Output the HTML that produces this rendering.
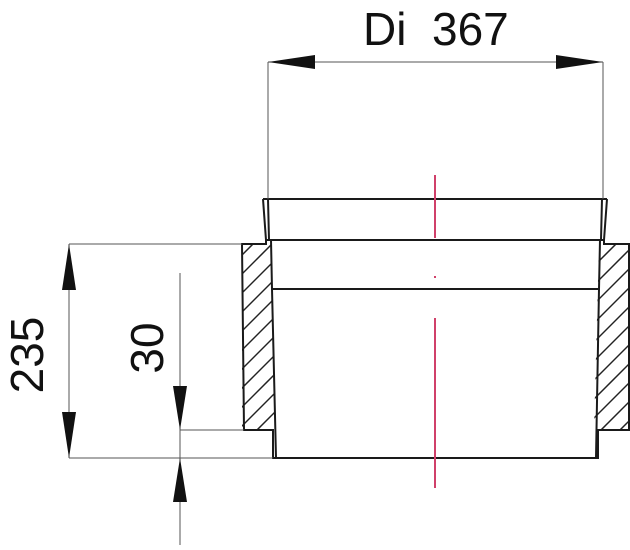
<!DOCTYPE html>
<html><head><style>body{margin:0;background:#fff}svg{display:block}</style></head><body>
<svg width="630" height="550" viewBox="0 0 630 550" xmlns="http://www.w3.org/2000/svg" font-family="Liberation Sans, sans-serif">
<defs>
<clipPath id="cl"><path d="M242,244 L271,244 L276,430 L242,430 Z"/></clipPath>
<clipPath id="cr"><path d="M629,244 L599,244 L594,430 L629,430 Z"/></clipPath>
</defs>
<g clip-path="url(#cl)" stroke="#222" stroke-width="1.5">
<line x1="235" y1="262" x2="285" y2="212"/><line x1="235" y1="281" x2="285" y2="231"/><line x1="235" y1="300" x2="285" y2="250"/><line x1="235" y1="319" x2="285" y2="269"/><line x1="235" y1="338" x2="285" y2="288"/><line x1="235" y1="357" x2="285" y2="307"/><line x1="235" y1="376" x2="285" y2="326"/><line x1="235" y1="395" x2="285" y2="345"/><line x1="235" y1="414" x2="285" y2="364"/><line x1="235" y1="433" x2="285" y2="383"/><line x1="235" y1="452" x2="285" y2="402"/><line x1="235" y1="471" x2="285" y2="421"/><line x1="235" y1="490" x2="285" y2="440"/>
</g>
<g clip-path="url(#cr)" stroke="#222" stroke-width="1.5">
<line x1="590" y1="270" x2="640" y2="220"/><line x1="590" y1="289" x2="640" y2="239"/><line x1="590" y1="308" x2="640" y2="258"/><line x1="590" y1="327" x2="640" y2="277"/><line x1="590" y1="346" x2="640" y2="296"/><line x1="590" y1="365" x2="640" y2="315"/><line x1="590" y1="384" x2="640" y2="334"/><line x1="590" y1="403" x2="640" y2="353"/><line x1="590" y1="422" x2="640" y2="372"/><line x1="590" y1="441" x2="640" y2="391"/><line x1="590" y1="460" x2="640" y2="410"/><line x1="590" y1="479" x2="640" y2="429"/>
</g>
<g fill="none" stroke="#1a1a1a" stroke-width="2">
<path d="M263,199 L607,199"/>
<path d="M263,199 L266,240 L271,240"/>
<path d="M607,199 L604,240 L599,240"/>
<path d="M268,199 L269,240 M602,199 L601,240"/>
<path d="M269,240 L602,240"/>
<path d="M271,240 L272,289 L599,289 L600,240"/>
<path d="M266,240 L266,244 L242,244 L244,430 L273,430 L273,458 L598,458 L598,430 L629,430 L629,244 L604,244 L604,240"/>
<path d="M272,289 L276,458 M599,289 L596,458"/>
</g>
<g fill="none" stroke="#555" stroke-width="1">
<line x1="268" y1="62" x2="268" y2="199"/>
<line x1="603" y1="62" x2="603" y2="199"/>
<line x1="268" y1="62" x2="603" y2="62"/>
<line x1="69" y1="244" x2="242" y2="244"/>
<line x1="69" y1="458" x2="273" y2="458"/>
<line x1="69" y1="244" x2="69" y2="458"/>
<line x1="180" y1="430" x2="244" y2="430"/>
<line x1="180" y1="273" x2="180" y2="545"/>
</g>
<g fill="#111">
<polygon points="268,62 315,55 315,69"/>
<polygon points="603,62 556,55 556,69"/>
<polygon points="69,244 62,290 76,290"/>
<polygon points="69,458 62,412 76,412"/>
<polygon points="180,430 173,386 187,386"/>
<polygon points="180,458 173,502 187,502"/>
</g>
<g stroke="#d0406a" stroke-width="2">
<line x1="435" y1="175" x2="435" y2="238"/>
<line x1="435" y1="276" x2="435" y2="278"/>
<line x1="435" y1="318" x2="435" y2="488"/>
</g>
<text x="363" y="45" font-size="46" fill="#111" xml:space="preserve">Di  367</text>
<text transform="translate(43,355) rotate(-90)" font-size="46" fill="#111" text-anchor="middle">235</text>
<text transform="translate(163,348) rotate(-90)" font-size="46" fill="#111" text-anchor="middle">30</text>
</svg>
</body></html>
